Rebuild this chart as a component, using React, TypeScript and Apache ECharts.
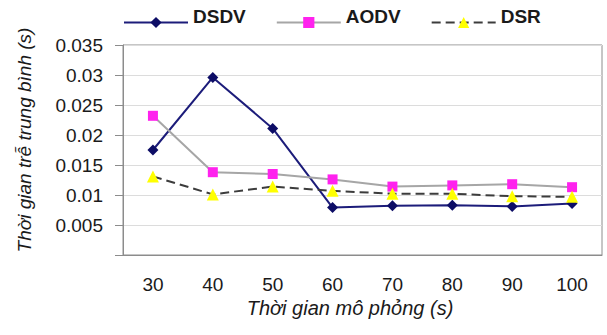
import React, { useEffect, useRef } from "react";
import * as echarts from "echarts";

const categories = ["30", "40", "50", "60", "70", "80", "90", "100"];
const dsdv = [0.0175, 0.0296, 0.0211, 0.0079, 0.0082, 0.0083, 0.0081, 0.0086];
const aodv = [0.0232, 0.0138, 0.0135, 0.0126, 0.0114, 0.0116, 0.0118, 0.0113];
const dsr = [0.0131, 0.0101, 0.0114, 0.0107, 0.0102, 0.0102, 0.0098, 0.0097];
const yTicks = ["0.005", "0.01", "0.015", "0.02", "0.025", "0.03", "0.035"];

const FONT = "'Liberation Sans', Arial, sans-serif";

export default function App() {
  const ref = useRef<HTMLDivElement>(null);
  useEffect(() => {
    if (!ref.current) return;
    const chart = echarts.init(ref.current, null, { renderer: "svg" });
    chart.setOption({
      animation: false,
      backgroundColor: "#ffffff",
      textStyle: { fontFamily: FONT },
      legend: {
        left: 118,
        top: 2,
        itemWidth: 64,
        itemHeight: 14,
        itemGap: 30,
        formatter: (name: string) => `{t|${name}}`,
        textStyle: {
          fontFamily: FONT,
          fontSize: 19,
          fontWeight: "bold",
          color: "#1a1a1a",
          rich: {
            t: {
              fontFamily: FONT,
              fontSize: 19,
              fontWeight: "bold",
              color: "#1a1a1a",
              padding: [0, 0, 12, 0],
            },
          },
        },
        data: ["DSDV", "AODV", "DSR"],
      },
      grid: {
        left: 123,
        right: 5,
        top: 45,
        bottom: 80,
        show: true,
        borderColor: "#8c8c8c",
        borderWidth: 1,
      },
      xAxis: {
        type: "category",
        data: categories,
        boundaryGap: true,
        axisLine: { lineStyle: { color: "#8c8c8c" } },
        axisTick: { show: false },
        axisLabel: { fontFamily: FONT, fontSize: 19, color: "#1a1a1a", margin: 20 },
      },
      yAxis: {
        type: "value",
        min: 0,
        max: 0.035,
        interval: 0.005,
        axisLine: { show: true, lineStyle: { color: "#8c8c8c" } },
        axisTick: { show: true, length: 8, lineStyle: { color: "#8c8c8c" } },
        splitLine: { lineStyle: { color: "#dcdcdc" } },
        axisLabel: {
          fontFamily: FONT,
          fontSize: 19,
          color: "#1a1a1a",
          margin: 20,
          formatter: (v: number) => {
            const idx = Math.round(v / 0.005) - 1;
            return idx >= 0 && idx < yTicks.length ? yTicks[idx] : "";
          },
        },
      },
      graphic: [
        {
          type: "text",
          x: 24,
          y: 140,
          rotation: Math.PI / 2,
          style: {
            text: "Thời gian trễ trung bình (s)",
            fontFamily: FONT,
            fontStyle: "italic",
            fontSize: 19,
            fill: "#1a1a1a",
            textAlign: "center",
            textVerticalAlign: "middle",
          },
        },
        {
          type: "text",
          x: 350,
          y: 308,
          style: {
            text: "Thời gian mô phỏng (s)",
            fontFamily: FONT,
            fontStyle: "italic",
            fontSize: 20,
            fill: "#1a1a1a",
            textAlign: "center",
            textVerticalAlign: "middle",
          },
        },
      ],
      series: [
        {
          name: "DSDV",
          type: "line",
          data: dsdv,
          symbol: "diamond",
          symbolSize: 11,
          lineStyle: { color: "#1c1c7a", width: 2 },
          itemStyle: { color: "#0d0d66" },
        },
        {
          name: "AODV",
          type: "line",
          data: aodv,
          symbol: "rect",
          symbolSize: 10,
          lineStyle: { color: "#a6a6a6", width: 2 },
          itemStyle: { color: "#ff22ee" },
        },
        {
          name: "DSR",
          type: "line",
          data: dsr,
          symbol: "triangle",
          symbolSize: 12,
          lineStyle: { color: "#3c3c3c", width: 2, type: [9, 5] },
          itemStyle: { color: "#ffff00" },
        },
      ],
    });
    return () => chart.dispose();
  }, []);
  return (
    <div
      ref={ref}
      style={{ position: "absolute", left: 0, top: 0, width: 607, height: 335 }}
    />
  );
}
